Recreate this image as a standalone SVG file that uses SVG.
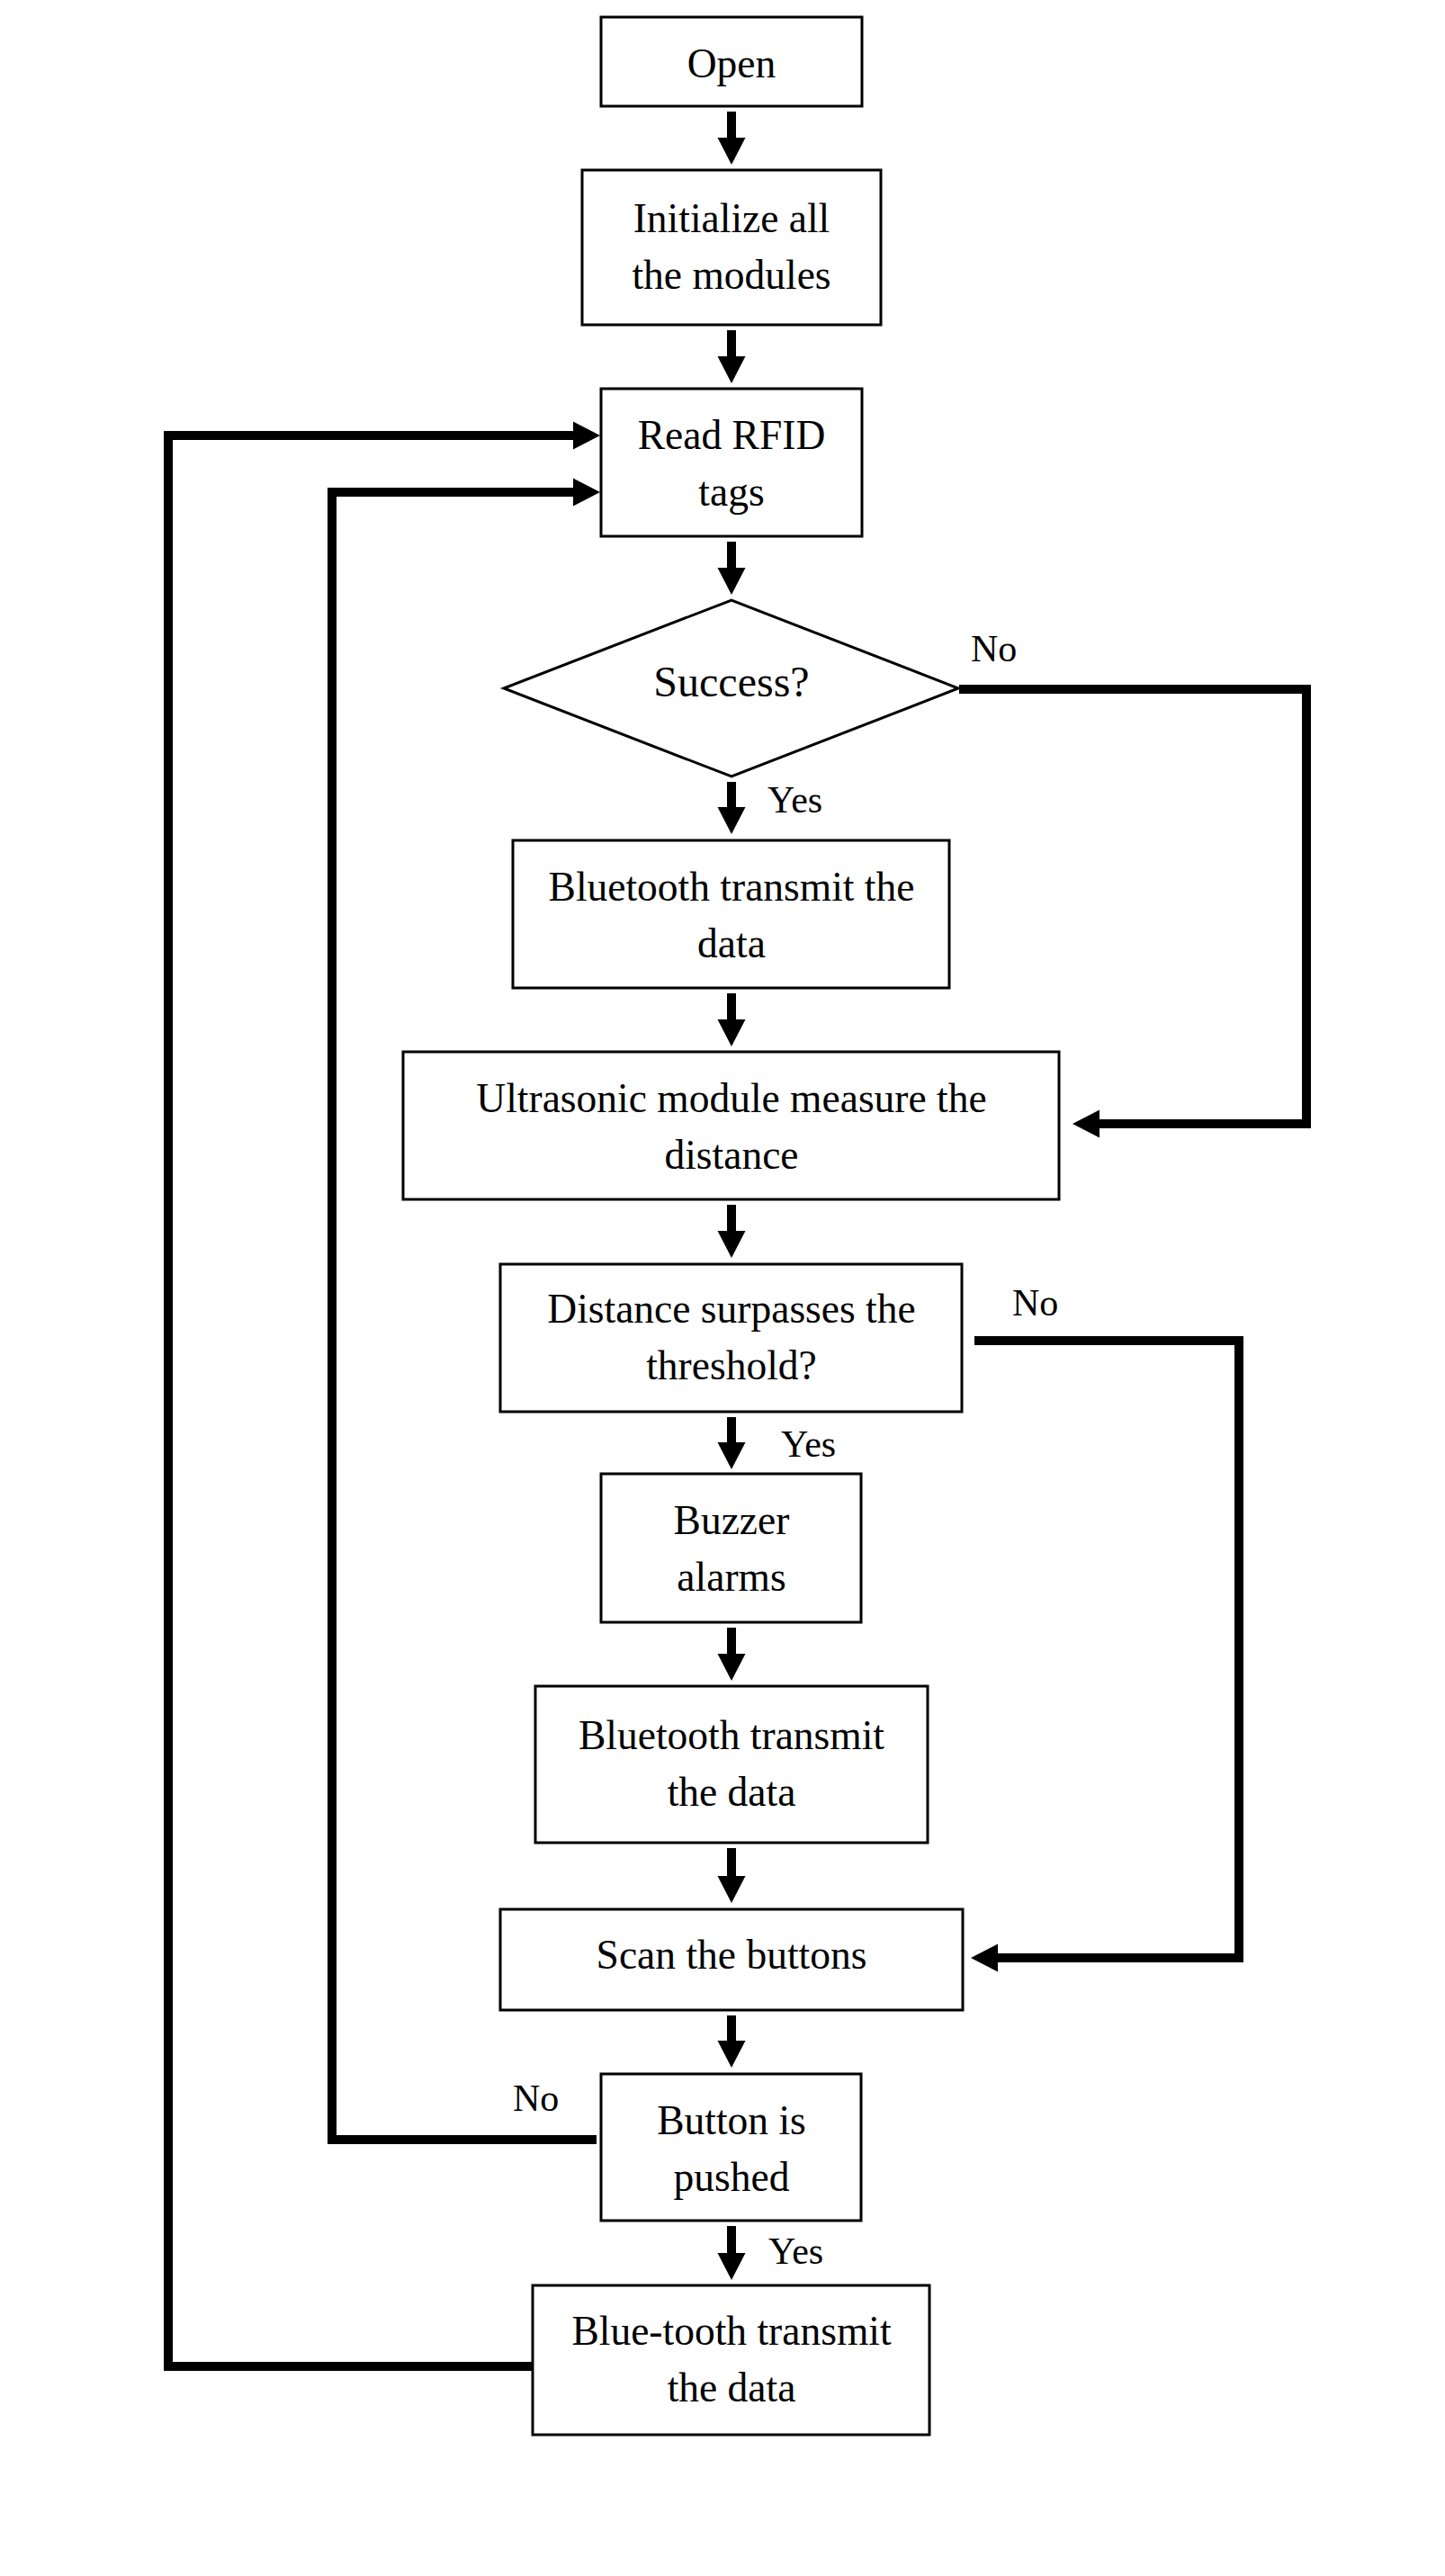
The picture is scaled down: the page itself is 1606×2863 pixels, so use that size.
<svg xmlns="http://www.w3.org/2000/svg" width="1606" height="2863" viewBox="0 0 1606 2863">
<defs>
<style>
.box{fill:#fff;stroke:#000;stroke-width:3}
.t{font-family:"Liberation Serif","Times New Roman",serif;font-size:45.5px;fill:#000;text-anchor:middle}
.lbl{font-family:"Liberation Serif","Times New Roman",serif;font-size:42px;fill:#000}
.c{fill:none;stroke:#000;stroke-width:10;stroke-linejoin:miter;stroke-linecap:butt}
</style>
<marker id="ah" markerUnits="userSpaceOnUse" markerWidth="30" markerHeight="31" viewBox="0 0 30 31" refX="0" refY="15.5" orient="auto" overflow="visible">
<path d="M0,0 L30,15.5 L0,31 z" fill="#000"/>
</marker>
</defs>
<rect width="1606" height="2863" fill="#fff"/>

<g id="connectors">
<path class="c" marker-end="url(#ah)" d="M813,124 V153"/>
<path class="c" marker-end="url(#ah)" d="M813,367 V396"/>
<path class="c" marker-end="url(#ah)" d="M813,602 V631"/>
<path class="c" marker-end="url(#ah)" d="M813,869 V897"/>
<path class="c" marker-end="url(#ah)" d="M813,1104 V1133"/>
<path class="c" marker-end="url(#ah)" d="M813,1339 V1368"/>
<path class="c" marker-end="url(#ah)" d="M813,1575 V1603"/>
<path class="c" marker-end="url(#ah)" d="M813,1809 V1838"/>
<path class="c" marker-end="url(#ah)" d="M813,2054 V2085"/>
<path class="c" marker-end="url(#ah)" d="M813,2240 V2268"/>
<path class="c" marker-end="url(#ah)" d="M813,2474 V2504"/>
<path class="c" marker-end="url(#ah)" d="M1066,766 H1452 V1249 H1222"/>
<path class="c" marker-end="url(#ah)" d="M1083,1490 H1377 V2176 H1109"/>
<path class="c" marker-end="url(#ah)" d="M663,2378 H369 V547 H637"/>
<path class="c" marker-end="url(#ah)" d="M592,2630 H187 V484 H637"/>
<text class="lbl" x="1079" y="735">No</text>
<text class="lbl" x="853" y="903">Yes</text>
<text class="lbl" x="1125" y="1462">No</text>
<text class="lbl" x="868" y="1619">Yes</text>
<text class="lbl" x="570" y="2346">No</text>
<text class="lbl" x="854" y="2516">Yes</text>
</g>

<g id="open">
<rect class="box" x="668" y="19" width="290" height="99"/>
<text class="t" x="813" y="86">Open</text>
</g>
<g id="init">
<rect class="box" x="647" y="189" width="332" height="172"/>
<text class="t" x="813" y="258">Initialize all</text>
<text class="t" x="813" y="321">the modules</text>
</g>
<g id="read">
<rect class="box" x="668" y="432" width="290" height="164"/>
<text class="t" x="813" y="499">Read RFID</text>
<text class="t" x="813" y="562">tags</text>
</g>
<g id="success">
<polygon class="box" points="560,765 813,667 1065,765 813,863"/>
<text class="t" x="813" y="774" style="font-size:48px">Success?</text>
</g>
<g id="bt1">
<rect class="box" x="570" y="934" width="485" height="164"/>
<text class="t" x="813" y="1001">Bluetooth transmit the</text>
<text class="t" x="813" y="1064">data</text>
</g>
<g id="ultra">
<rect class="box" x="448" y="1169" width="729" height="164"/>
<text class="t" x="813" y="1236">Ultrasonic module measure the</text>
<text class="t" x="813" y="1299">distance</text>
</g>
<g id="dist">
<rect class="box" x="556" y="1405" width="513" height="164"/>
<text class="t" x="813" y="1470">Distance surpasses the</text>
<text class="t" x="813" y="1533">threshold?</text>
</g>
<g id="buzzer">
<rect class="box" x="668" y="1638" width="289" height="165"/>
<text class="t" x="813" y="1705">Buzzer</text>
<text class="t" x="813" y="1768">alarms</text>
</g>
<g id="bt2">
<rect class="box" x="595" y="1874" width="436" height="174"/>
<text class="t" x="813" y="1944">Bluetooth transmit</text>
<text class="t" x="813" y="2007">the data</text>
</g>
<g id="scan">
<rect class="box" x="556" y="2122" width="514" height="112"/>
<text class="t" x="813" y="2188">Scan the buttons</text>
</g>
<g id="button">
<rect class="box" x="668" y="2305" width="289" height="163"/>
<text class="t" x="813" y="2372">Button is</text>
<text class="t" x="813" y="2435">pushed</text>
</g>
<g id="bt3">
<rect class="box" x="592" y="2540" width="441" height="166"/>
<text class="t" x="813" y="2606">Blue-tooth transmit</text>
<text class="t" x="813" y="2669">the data</text>
</g>
</svg>
